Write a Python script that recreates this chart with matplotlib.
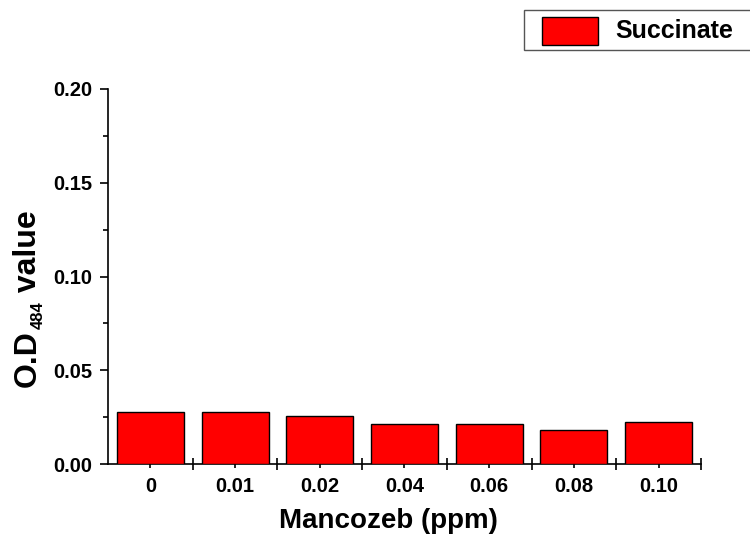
import matplotlib
matplotlib.use("Agg")
import matplotlib.pyplot as plt
from matplotlib.patches import Rectangle
from matplotlib.ticker import (MultipleLocator, FixedLocator, NullFormatter,
                               FixedFormatter, FormatStrFormatter)
import numpy as np

plt.rcParams['font.family'] = ['Liberation Sans', 'DejaVu Sans']
plt.rcParams['font.weight'] = 'bold'

categories = ["0", "0.01", "0.02", "0.04", "0.06", "0.08", "0.10"]
succinate = [0.0279, 0.0277, 0.0255, 0.0216, 0.0211, 0.0180, 0.0225]
series_name = "Succinate"

W, H = 750, 546
fig = plt.figure(figsize=(W / 100, H / 100), dpi=100)
AX_L, AX_R, AX_T, AX_B = 108, 701, 89, 464
ax = fig.add_axes([AX_L / W, 1 - AX_B / H, (AX_R - AX_L) / W, (AX_B - AX_T) / H])

BAR_RED = "#ff0000"
x = np.arange(len(categories))
ax.bar(x, succinate, width=0.79, color=BAR_RED, edgecolor="black",
       linewidth=1.0, zorder=3)

ax.set_xlim(-0.5, len(categories) - 0.5)
ax.set_ylim(0, 0.20)

for s in ("top", "right"):
    ax.spines[s].set_visible(False)
for s in ("left", "bottom"):
    ax.spines[s].set_linewidth(1.2)

# y axis: labelled majors every 0.05, minors in between
ax.yaxis.set_major_locator(MultipleLocator(0.05))
ax.yaxis.set_minor_locator(MultipleLocator(0.025))
ax.yaxis.set_major_formatter(FormatStrFormatter('%.2f'))
ax.tick_params(axis='y', which='major', direction='out', length=6, width=1.2,
               labelsize=14.5, pad=5)
ax.tick_params(axis='y', which='minor', direction='out', length=3.5, width=1.2)

# x axis: separator marks crossing the axis, labels at bar centres
ax.xaxis.set_major_locator(FixedLocator(x + 0.5))
ax.xaxis.set_major_formatter(NullFormatter())
ax.xaxis.set_minor_locator(FixedLocator(x))
ax.xaxis.set_minor_formatter(FixedFormatter(categories))
ax.tick_params(axis='x', which='major', direction='inout', length=8.5, width=1.2)
ax.tick_params(axis='x', which='minor', direction='out', length=3, width=1.2,
               labelsize=14.5, pad=6.5)
for lbl in ax.get_xticklabels(minor=True) + ax.get_yticklabels():
    lbl.set_fontweight('bold')

ax.set_xlabel("Mancozeb (ppm)", fontsize=20, fontweight='bold')
ax.xaxis.set_label_coords((388 - AX_L) / (AX_R - AX_L), -(508 - AX_B) / (AX_B - AX_T))
ax.xaxis.label.set_va('top')

# y label built from pieces so the subscript can be small
fig.canvas.draw()
renderer = fig.canvas.get_renderer()

def put(xpx, ypx, s, size):
    t = fig.text(xpx / W, 1 - ypx / H, s, rotation=90, rotation_mode='anchor',
                 ha='left', va='baseline', fontsize=size, fontweight='bold')
    return t, t.get_window_extent(renderer).height

y0 = 387
t1, h1 = put(36, y0, "O.D", 23)
t2, h2 = put(43, y0 - h1 - 1, "484", 12)
t3, h3 = put(36, y0 - h1 - h2 - 1, " value", 23)

# legend box, partly running off the right edge
fig.patches.append(Rectangle((524 / W, 1 - 50 / H), 240 / W, 40 / H,
                             transform=fig.transFigure, facecolor='white',
                             edgecolor='#555555', linewidth=1.0))
fig.patches.append(Rectangle((542 / W, 1 - 45 / H), 56 / W, 28 / H,
                             transform=fig.transFigure, facecolor=BAR_RED,
                             edgecolor='black', linewidth=1.0))
fig.text(615 / W, 1 - 38.5 / H, series_name, ha='left', va='baseline',
         fontsize=18, fontweight='bold')

fig.savefig("out.png", dpi=100)
